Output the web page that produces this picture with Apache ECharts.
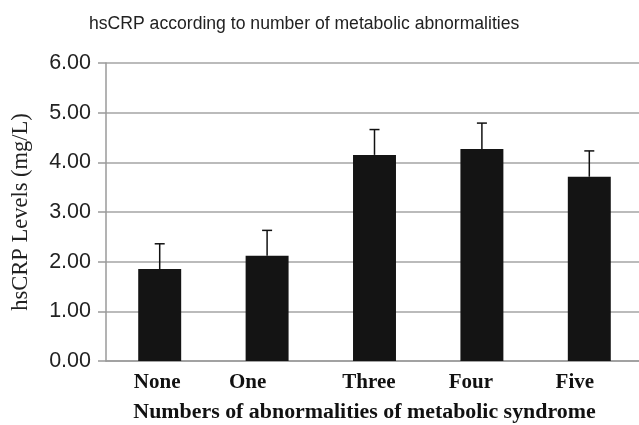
<!DOCTYPE html>
<html><head><meta charset="utf-8">
<script src="https://cdn.jsdelivr.net/npm/echarts@6/dist/echarts.min.js"></script>
<style>html,body{margin:0;padding:0;background:#fff}#c{width:639px;height:425px}</style>
</head><body><div id="c"></div>
<script>
const categories = ['None', 'One', 'Three', 'Four', 'Five'];
const hsCRP = [1.85, 2.12, 4.15, 4.27, 3.71];
const upperError = [0.51, 0.51, 0.51, 0.52, 0.52];
const yTicks = ['0.00','1.00','2.00','3.00','4.00','5.00','6.00'];

// label horizontal nudges (px, styling only)
const labelPadRight = [5, 39, 11, 22, 29];

const chart = echarts.init(document.getElementById('c'), null, {renderer: 'canvas'});
const rich = {};
categories.forEach((c, i) => {
  rich['l' + i] = {fontFamily: '"Liberation Serif", "Times New Roman", serif', fontWeight: 'bold', fontSize: 21, color: '#111', padding: [0, labelPadRight[i], 0, 0]};
});
chart.setOption({
  animation: false,
  title: {
    text: 'hsCRP according to number of metabolic abnormalities',
    left: 84, top: 10,
    textStyle: {fontFamily: '"Liberation Sans", Arial, sans-serif', fontWeight: 'normal', fontSize: 17.6, color: '#222'}
  },
  grid: {left: 106, top: 63, width: 537, height: 298, outerBoundsMode: 'none', containLabel: false},
  xAxis: {
    type: 'category', data: categories,
    axisLine: {lineStyle: {color: '#9a9a9a', width: 1.5}},
    axisTick: {show: false},
    axisLabel: {
      margin: 11,
      formatter: (v, i) => '{l' + i + '|' + v + '}',
      rich: rich
    },
    name: 'Numbers of abnormalities of metabolic syndrome',
    nameLocation: 'middle', nameGap: 40,
    nameTextStyle: {fontFamily: '"Liberation Serif", "Times New Roman", serif', fontWeight: 'bold', fontSize: 21.9, color: '#111', padding: [0, 20, 0, 0]}
  },
  yAxis: {
    type: 'value', min: 0, max: 6, interval: 1,
    axisLine: {show: true, lineStyle: {color: '#9a9a9a', width: 1.5}},
    axisTick: {show: true, length: 8, lineStyle: {color: '#9a9a9a', width: 1.5}},
    splitLine: {lineStyle: {color: '#a5a5a5', width: 1.5}},
    axisLabel: {
      margin: 15,
      formatter: v => yTicks[Math.round(v)],
      fontFamily: '"Liberation Sans", Arial, sans-serif', fontSize: 21.5, color: '#222'
    },
    name: 'hsCRP Levels (mg/L)',
    nameLocation: 'middle', nameGap: 73, nameRotate: 90,
    nameTextStyle: {fontFamily: '"Liberation Serif", "Times New Roman", serif', fontSize: 22.5, color: '#222'}
  },
  series: [
    {
      type: 'bar', data: hsCRP, barWidth: '40%',
      itemStyle: {color: '#141414'}, z: 2
    },
    {
      type: 'custom',
      data: hsCRP.map((v, i) => [i, v, v + upperError[i]]),
      renderItem: (params, api) => {
        const base = api.coord([api.value(0), api.value(1)]);
        const top = api.coord([api.value(0), api.value(2)]);
        const hw = 5;
        return {
          type: 'group',
          children: [
            {type: 'line', shape: {x1: base[0], y1: base[1], x2: top[0], y2: top[1]}, style: {stroke: '#111', lineWidth: 1.5}},
            {type: 'line', shape: {x1: top[0] - hw, y1: top[1], x2: top[0] + hw, y2: top[1]}, style: {stroke: '#111', lineWidth: 1.5}}
          ]
        };
      },
      z: 3
    }
  ]
});
</script></body></html>
